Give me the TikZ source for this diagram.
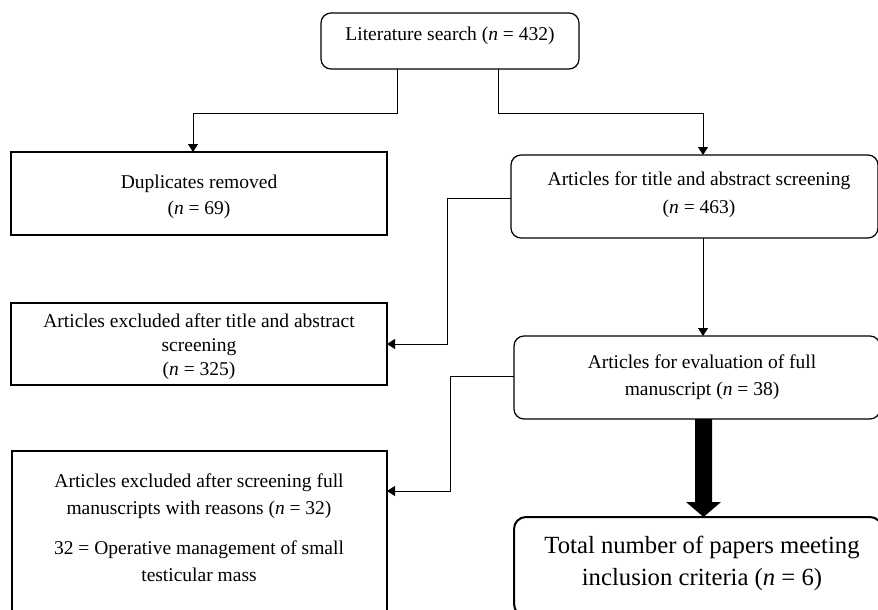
\documentclass[tikz,border=0pt]{standalone}
\usepackage{fontspec}
\setmainfont{Liberation Serif}
\usetikzlibrary{arrows.meta,calc}
\begin{document}
\begin{tikzpicture}[x=1pt,y=-1pt,
  sqbox/.style={draw,line width=1.2pt,inner sep=0,outer sep=0},
  rbox/.style={draw,line width=1.2pt,rounded corners=10pt,inner sep=0,outer sep=0},
  bigbox/.style={draw,line width=2pt,rounded corners=12pt,inner sep=0,outer sep=0},
  conn/.style={line width=0.9pt,-{Triangle[length=8pt,width=10pt]}},
  txt/.style={inner sep=0,anchor=base,font=\fontsize{19.5}{23}\selectfont},
  bigtxt/.style={inner sep=0,anchor=base,font=\fontsize{24.7}{30}\selectfont}]
\useasboundingbox (0,0) rectangle (878,610);
% boxes
\node[rbox,minimum width=258,minimum height=56] (top) at (450,41) {};
\node[sqbox,minimum width=376,minimum height=83] (dup) at (199,193.5) {};
\node[rbox,minimum width=367,minimum height=83] (title) at (694.5,196.5) {};
\node[sqbox,minimum width=376,minimum height=82] (excl1) at (199,344) {};
\node[rbox,minimum width=366,minimum height=83] (eval) at (697,377.5) {};
\node[sqbox,minimum width=375,minimum height=174] (excl2) at (199.5,538) {};
\node[bigbox,minimum width=368,minimum height=99] (final) at (698,566.5) {};
% texts
\node[txt] (ta) at (450,41) {Literature search (\textit{n} = 432)};
\node[txt] (tb1) at (199,188) {Duplicates removed};
\node[txt] (tb2) at (199,214) {(\textit{n} = 69)};
\node[txt] (tc1) at (699,185) {Articles for title and abstract screening};
\node[txt] (tc2) at (699,213) {(\textit{n} = 463)};
\node[txt] (td1) at (199,327) {Articles excluded after title and abstract};
\node[txt] (td2) at (199,351) {screening};
\node[txt] (td3) at (199,375) {(\textit{n} = 325)};
\node[txt] (te1) at (702,368) {Articles for evaluation of full};
\node[txt] (te2) at (702,395) {manuscript (\textit{n} = 38)};
\node[txt] (tf1) at (199,487) {Articles excluded after screening full};
\node[txt] (tf2) at (199,514) {manuscripts with reasons (\textit{n} = 32)};
\node[txt] (tf3) at (199,554) {32 = Operative management of small};
\node[txt] (tf4) at (199,581) {testicular mass};
\node[bigtxt] (tg1) at (702,553) {Total number of papers meeting};
\node[bigtxt] (tg2) at (702,585) {inclusion criteria (\textit{n} = 6)};
% connectors
\draw[conn] ($(top.south)+(-53,0)$) -- ++(0,44) -| ($(dup.north)+(-6,0)$);
\draw[conn] ($(top.south)+(48,0)$) -- ++(0,44) -| ($(title.north)+(8.5,0)$);
\draw[conn] ($(title.west)+(0,1.5)$) -- ++(-64,0) |- (excl1.east);
\coordinate (vx) at ($(title.south)+(8.5,0)$);
\draw[conn] (vx) -- (vx |- eval.north);
\draw[conn] ($(eval.west)+(0,-1.5)$) -- ++(-64,0) |- ($(excl2.east)+(0,-47)$);
% thick arrow
\coordinate (tx) at ($(eval.south)+(6.5,0)$);
\fill ($(tx)+(-8.5,0)$) -- ($(tx)+(8.5,0)$) -- ($(tx)+(8.5,83)$) -- ($(tx)+(17.5,83)$)
  -- (tx |- final.north) -- ($(tx)+(-17.5,83)$) -- ($(tx)+(-8.5,83)$) -- cycle;
\end{tikzpicture}
\end{document}
